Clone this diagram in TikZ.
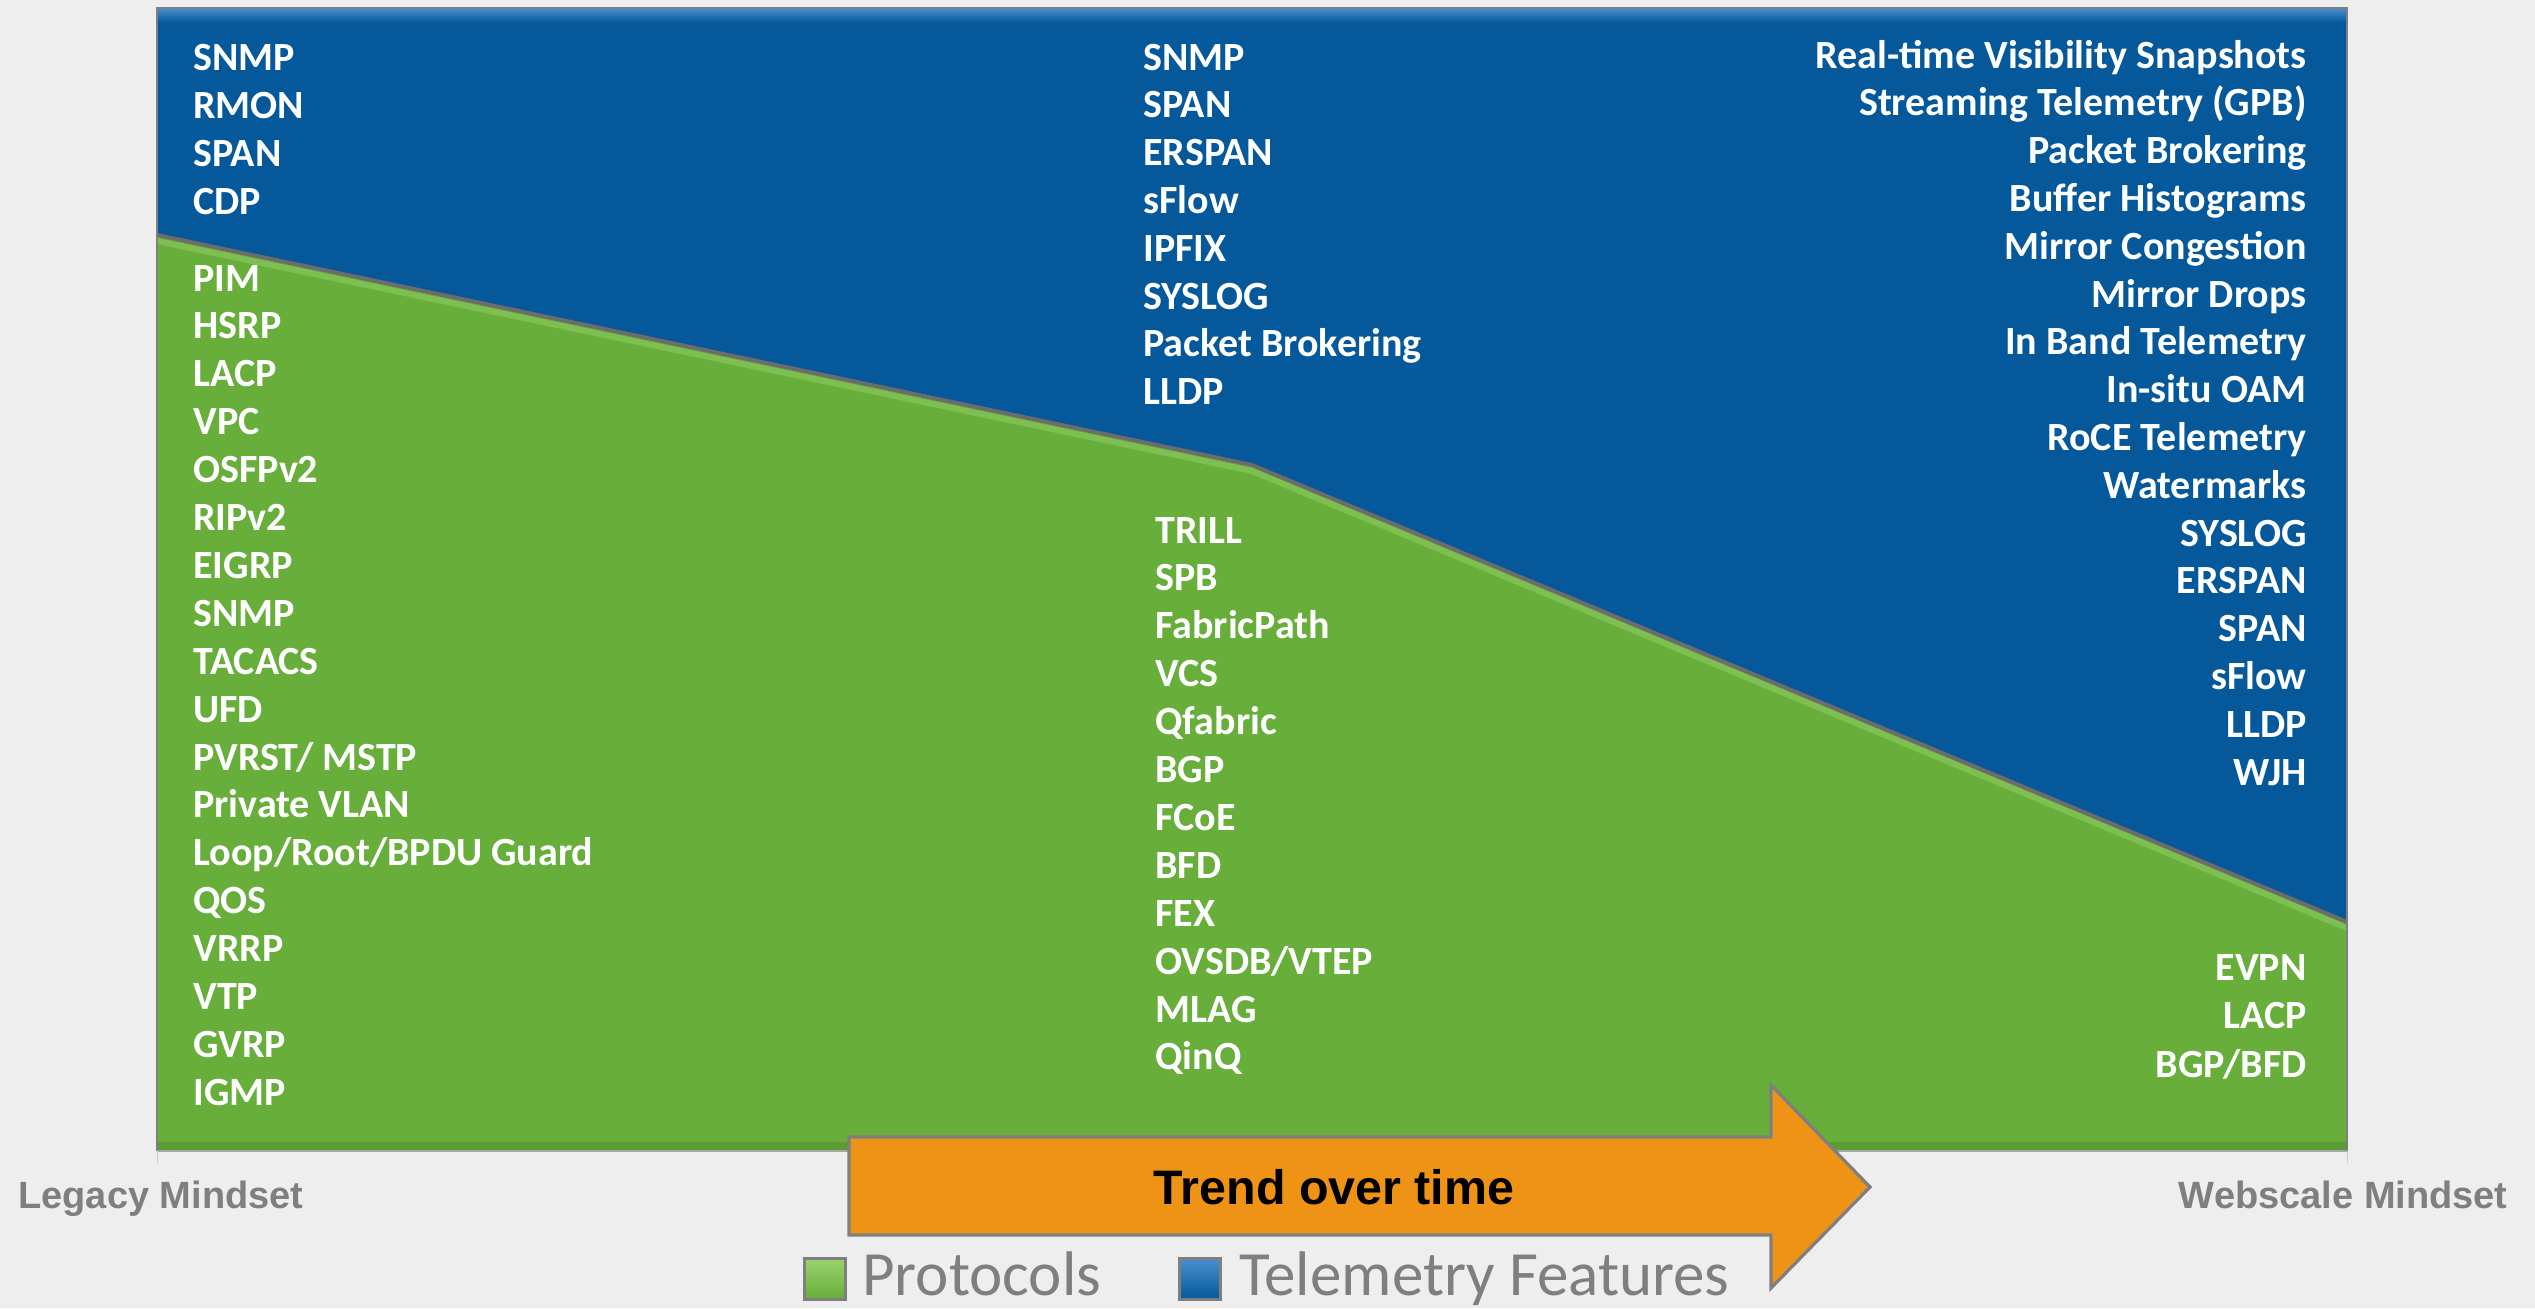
\documentclass[tikz,border=0pt]{standalone}
\usepackage{fontspec}
\setmainfont{Carlito}
\newfontfamily\arialf{Liberation Sans}
\definecolor{bgc}{HTML}{EEEEEE}
\definecolor{telblue}{HTML}{05599A}
\definecolor{telbluelt}{HTML}{4A8FD0}
\definecolor{protgreen}{HTML}{67AE3B}
\definecolor{protgreenlt}{HTML}{9BD46E}
\definecolor{protgreendk}{HTML}{5C9C34}
\definecolor{trendorange}{HTML}{EE9316}
\definecolor{edgegray}{HTML}{7F7F7F}
\definecolor{labelgray}{HTML}{7F7F7F}
\tikzset{
  item/.style={inner sep=0pt, text=white, font=\bfseries\fontsize{20}{24}\selectfont},
  mindset/.style={inner sep=0pt, text=labelgray, font=\arialf\bfseries\fontsize{19}{22}\selectfont},
  legendtext/.style={inner sep=0pt, text=labelgray, font=\fontsize{31.5}{36}\selectfont},
  legendbox/.style={draw=edgegray, line width=1.5pt},
}
\begin{document}
\begin{tikzpicture}[x=0.5pt,y=-0.5pt]
\useasboundingbox (0,0) rectangle (2535,1308);
\fill[bgc] (0,0) rectangle (2535,1308);

% chart corners and the boundary between the two areas
\coordinate (tl) at (157,8);
\coordinate (tr) at (2347,8);
\coordinate (bl) at (157,1151);
\coordinate (br) at (2347,1151);
\coordinate (bL) at (157,235);
\coordinate (bK) at (1252,465);
\coordinate (bR) at (2347,922);

% telemetry area (upper) and protocol area (lower)
\fill[telblue] (tl) -- (tr) -- (bR) -- (bK) -- (bL) -- cycle;
\shade[top color=telbluelt, bottom color=telblue] (157,8) rectangle (2347,22);
\fill[protgreen] (bL) -- (bK) -- (bR) -- (br) -- (bl) -- cycle;
\fill[protgreendk] (157,1142) rectangle (2347,1151);

% soft highlight under the boundary, then the boundary itself
\draw[protgreenlt, line width=3pt, line join=round, opacity=0.45]
  ([yshift=-3pt]bL) -- ([yshift=-3pt]bK) -- ([yshift=-3pt]bR);
\draw[edgegray!85!black, line width=2pt, line join=round] (bL) -- (bK) -- (bR);

% frame
\draw[edgegray, line width=1pt] (bl) -- (tl) -- (tr) -- (br);
\draw[black!35, line width=1pt] (bl) -- (br);
\draw[black!20, line width=0.5pt] (bl) -- ++(0,12);
\draw[black!20, line width=0.5pt] (br) -- ++(0,12);

% left column
\foreach \t [count=\i] in {SNMP,RMON,SPAN,CDP}
  \node[item, anchor=base west] (lb\i) at (193,{70+48.1*(\i-1)}) {\t};
\foreach \t [count=\i] in {PIM,HSRP,LACP,VPC,OSFPv2,RIPv2,EIGRP,SNMP,TACACS,UFD,
  {PVRST/ MSTP},{Private VLAN},{Loop/Root/BPDU Guard},QOS,VRRP,VTP,GVRP,IGMP}
  \node[item, anchor=base west] (lg\i) at (193,{291+47.9*(\i-1)}) {\t};

% middle column
\foreach \t [count=\i] in {SNMP,SPAN,ERSPAN,sFlow,IPFIX,SYSLOG,{Packet Brokering},LLDP}
  \node[item, anchor=base west] (mb\i) at (1143,{70+47.8*(\i-1)}) {\t};
\foreach \t [count=\i] in {TRILL,SPB,FabricPath,VCS,Qfabric,BGP,FCoE,BFD,FEX,
  {OVSDB/VTEP},MLAG,QinQ}
  \node[item, anchor=base west] (mg\i) at (1155,{543+47.9*(\i-1)}) {\t};

% right column
\foreach \t [count=\i] in {{Real-time Visibility Snapshots},{Streaming Telemetry (GPB)},
  {Packet Brokering},{Buffer Histograms},{Mirror Congestion},{Mirror Drops},
  {In Band Telemetry},{In-situ OAM},{RoCE Telemetry},Watermarks,SYSLOG,ERSPAN,
  SPAN,sFlow,LLDP,WJH}
  \node[item, anchor=base east] (rb\i) at (2307,{68+47.8*(\i-1)}) {\t};
\foreach \t [count=\i] in {EVPN,LACP,{BGP/BFD}}
  \node[item, anchor=base east] (rg\i) at (2307,{980+48.5*(\i-1)}) {\t};

% trend arrow
\filldraw[fill=trendorange, draw=edgegray, line width=1.6pt, line join=miter]
  (849,1137) -- (1771,1137) -- (1771,1085) -- (1870,1187) -- (1771,1288)
  -- (1771,1235) -- (849,1235) -- cycle;
\node[inner sep=0pt, font=\arialf\bfseries\fontsize{24.2}{28}\selectfont, anchor=base]
  (trend) at (1334,1204) {Trend over time};

% axis end labels
\node[mindset, anchor=base west] (legacy) at (18,1208) {Legacy Mindset};
\node[mindset, anchor=base east] (webscale) at (2508,1208) {Webscale Mindset};

% legend
\shade[top color=protgreenlt, bottom color=protgreen, legendbox] (804,1258) rectangle (845,1299);
\node[legendtext, anchor=base west] (protocols) at (862,1295) {Protocols};
\shade[top color=telbluelt, bottom color=telblue, legendbox] (1179,1258) rectangle (1220,1299);
\node[legendtext, anchor=base west] (telemetry) at (1239,1295) {Telemetry Features};
\end{tikzpicture}
\end{document}
